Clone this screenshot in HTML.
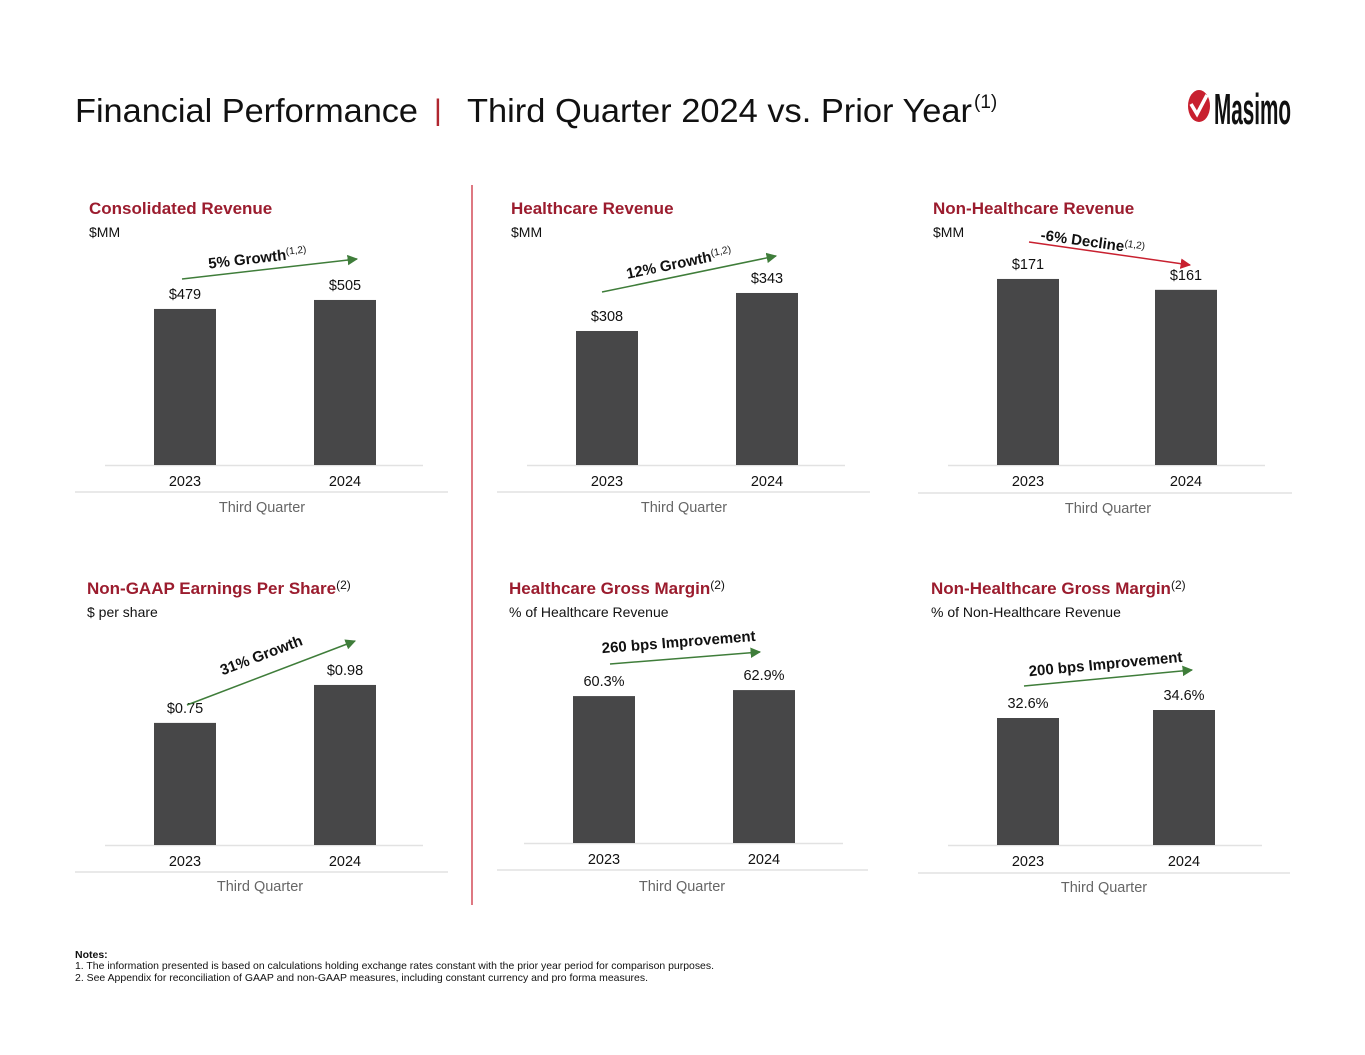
<!DOCTYPE html>
<html><head><meta charset="utf-8"><style>
body{margin:0;background:#fff;width:1365px;height:1055px;overflow:hidden;font-family:"Liberation Sans",Arial,sans-serif}
svg{position:absolute;left:0;top:0}
</style></head><body>
<svg id="s" width="1365" height="1055" viewBox="0 0 1365 1055">
<defs>
<marker id="ag" viewBox="0 0 10 10" refX="9" refY="5" markerWidth="7" markerHeight="7" orient="auto"><path d="M0,0L10,5L0,10z" fill="#3f7d3a"/></marker>
<marker id="ar" viewBox="0 0 10 10" refX="9" refY="5" markerWidth="7" markerHeight="7" orient="auto"><path d="M0,0L10,5L0,10z" fill="#c8202f"/></marker>
</defs>
<g>
<text x="75" y="122" font-size="33" fill="#111" textLength="343" lengthAdjust="spacingAndGlyphs">Financial Performance</text>
<text x="434" y="120" font-size="30" fill="#b0262f">|</text>
<text x="467" y="122" font-size="33" fill="#111" textLength="505" lengthAdjust="spacingAndGlyphs">Third Quarter 2024 vs. Prior Year</text>
<text x="974" y="108" font-size="19" fill="#111">(1)</text>
</g>
<g>
<ellipse cx="1199" cy="106" rx="11" ry="16" fill="#c8202f"/>
<path d="M1191,104 L1197,114 L1207,95" stroke="#fff" stroke-width="3.5" fill="none"/>
<text x="1214" y="124" font-size="44" font-weight="bold" fill="#111" textLength="77" lengthAdjust="spacingAndGlyphs">Masimo</text>
</g>
<line x1="472" y1="185" x2="472" y2="905" stroke="#c8202f" stroke-width="1.2"/>
<text x="75" y="958" font-size="10.5" font-weight="bold" fill="#111">Notes:</text>
<text x="75" y="969" font-size="10.3" fill="#111" textLength="639" lengthAdjust="spacingAndGlyphs">1.  The information presented is based on calculations holding exchange rates constant with the prior year period for comparison purposes.</text>
<text x="75" y="981" font-size="10.3" fill="#111" textLength="573" lengthAdjust="spacingAndGlyphs">2.  See Appendix for reconciliation of GAAP and non-GAAP measures, including constant currency and pro forma measures.</text>
</svg>
<script>
const categories = ["2023", "2024"];
const consolidatedRevenue = [479, 505];
const healthcareRevenue = [308, 343];
const nonHealthcareRevenue = [171, 161];
const nonGaapEps = [0.75, 0.98];
const healthcareMargin = [60.3, 62.9];
const nonHealthcareMargin = [32.6, 34.6];
const consolidatedLabels = ["$479", "$505"];
const healthcareLabels = ["$308", "$343"];
const nonHealthcareLabels = ["$171", "$161"];
const epsLabels = ["$0.75", "$0.98"];
const hcMarginLabels = ["60.3%", "62.9%"];
const nhcMarginLabels = ["32.6%", "34.6%"];

const panels = [
 {id:"consolidated-revenue",title:"Consolidated Revenue",sup:"",sub:"$MM",vals:consolidatedRevenue,labels:consolidatedLabels,
  tx:89,ty:214,cx:[185,345],base:465,v0:28,k:0.346,ax1:105,ax2:423,bx1:75,bx2:448,by:492,tq:262,tqy:512,
  arrow:[182,279,357,259],red:false,note:"5% Growth",nsup:"(1,2)",nx:258,ny:263,rot:-6.5},
 {id:"healthcare-revenue",title:"Healthcare Revenue",sup:"",sub:"$MM",vals:healthcareRevenue,labels:healthcareLabels,
  tx:511,ty:214,cx:[607,767],base:465,v0:184.6,k:1.086,ax1:527,ax2:845,bx1:497,bx2:870,by:492,tq:684,tqy:512,
  arrow:[602,292,776,256],red:false,note:"12% Growth",nsup:"(1,2)",nx:680,ny:268,rot:-11.7},
 {id:"non-healthcare-revenue",title:"Non-Healthcare Revenue",sup:"",sub:"$MM",vals:nonHealthcareRevenue,labels:nonHealthcareLabels,
  tx:933,ty:214,cx:[1028,1186],base:465,v0:0,k:1.088,ax1:948,ax2:1265,bx1:918,bx2:1292,by:493,tq:1108,tqy:513,
  arrow:[1029,242,1190,265],red:true,note:"-6% Decline",nsup:"(1,2)",nx:1092,ny:247,rot:8},
 {id:"non-gaap-eps",title:"Non-GAAP Earnings Per Share",sup:"(2)",sub:"$ per share",vals:nonGaapEps,labels:epsLabels,
  tx:87,ty:594,cx:[185,345],base:845,v0:0.01,k:165,ax1:105,ax2:423,bx1:75,bx2:448,by:872,tq:260,tqy:891,
  arrow:[187,705,355,641],red:false,note:"31% Growth",nsup:"",nx:263,ny:660,rot:-20.8},
 {id:"healthcare-gross-margin",title:"Healthcare Gross Margin",sup:"(2)",sub:"% of Healthcare Revenue",vals:healthcareMargin,labels:hcMarginLabels,
  tx:509,ty:594,cx:[604,764],base:843,v0:-3.3,k:2.31,ax1:524,ax2:843,bx1:497,bx2:868,by:870,tq:682,tqy:891,
  arrow:[610,664,760,652],red:false,note:"260 bps Improvement",nsup:"",nx:679,ny:647,rot:-4.6},
 {id:"non-healthcare-gross-margin",title:"Non-Healthcare Gross Margin",sup:"(2)",sub:"% of Non-Healthcare Revenue",vals:nonHealthcareMargin,labels:nhcMarginLabels,
  tx:931,ty:594,cx:[1028,1184],base:845,v0:0.85,k:4,ax1:948,ax2:1262,bx1:918,bx2:1290,by:873,tq:1104,tqy:892,
  arrow:[1024,686,1192,670],red:false,note:"200 bps Improvement",nsup:"",nx:1106,ny:669,rot:-5.4}
];
const NS="http://www.w3.org/2000/svg";
const svg=document.getElementById("s");
function mk(tag,attrs,parent){const e=document.createElementNS(NS,tag);for(const a in attrs)e.setAttribute(a,attrs[a]);(parent||svg).appendChild(e);return e;}
panels.forEach(p=>{
 const g=mk("g",{});
 
 
 const t=mk("text",{x:p.tx,y:p.ty,"font-size":17,"font-weight":"bold",fill:"#9b1c2e"},g);
 t.textContent=p.title;
 
 
 if(p.sup){const s=mk("tspan",{"font-size":12,"font-weight":"normal",fill:"#111",dy:-5},t);s.textContent=p.sup;}
 const sb=mk("text",{x:p.tx,y:p.ty+23,"font-size":14,fill:"#111"},g);
 sb.textContent=p.sub;
 
 
 const yScale=v=>p.base-(v-p.v0)*p.k;
 const al=mk("line",{x1:p.ax1,x2:p.ax2,y1:p.base+0.5,y2:p.base+0.5,stroke:"#e2e2e2","stroke-width":1.5},g);
 
 
 const bl=mk("line",{x1:p.bx1,x2:p.bx2,y1:p.by,y2:p.by,stroke:"#e2e2e2","stroke-width":1.5},g);
 
 
 p.vals.forEach((v,i)=>{
  const y=yScale(v);
  const r=mk("rect",{x:p.cx[i]-31,y:y,width:62,height:p.base-y,fill:"#474748"},g);
  
  
  const l=mk("text",{x:p.cx[i],y:y-10,"font-size":14.5,fill:"#111","text-anchor":"middle"},g);
  l.textContent=p.labels[i];
  
  
  const c=mk("text",{x:p.cx[i],y:p.base+21,"font-size":14.5,fill:"#111","text-anchor":"middle"},g);
  c.textContent=categories[i];
  
  
 });
 const q=mk("text",{x:p.tq,y:p.tqy,"font-size":14.5,fill:"#666","text-anchor":"middle"},g);
 q.textContent="Third Quarter";
 
 
 const a=p.arrow;
 const ar=mk("line",{x1:a[0],y1:a[1],x2:a[2],y2:a[3],stroke:p.red?"#c8202f":"#3f7d3a","stroke-width":1.5,"marker-end":p.red?"url(#ar)":"url(#ag)"},g);
 
 
 const n=mk("text",{x:p.nx,y:p.ny,"font-size":15,"font-weight":"bold",fill:"#111","text-anchor":"middle",transform:"rotate("+p.rot+" "+p.nx+" "+p.ny+")"},g);
 n.textContent=p.note;
 
 
 if(p.nsup){const s=mk("tspan",{"font-size":10,"font-weight":"normal",dy:-5},n);s.textContent=p.nsup;}
});
</script>
</body></html>
